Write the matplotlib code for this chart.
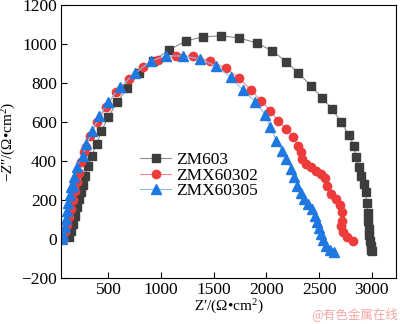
"""
EIS Nyquist plot: ZM603 / ZMX60302 / ZMX60305
"""
import numpy as np
import matplotlib.pyplot as plt

plt.rcParams['font.family'] = ['Liberation Serif', 'DejaVu Serif']
plt.rcParams['mathtext.fontset'] = 'custom'
plt.rcParams['mathtext.rm'] = 'Liberation Serif'
plt.rcParams['mathtext.it'] = 'Liberation Serif:italic'

# ZM603
zm603_re = [123, 142, 160, 179, 198, 217, 236, 255, 274, 311, 340, 387, 434, 500,
            585, 679, 792, 925, 1075, 1236, 1396, 1566, 1736, 1906, 2057, 2189,
            2302, 2425, 2528, 2623, 2708, 2783, 2830, 2849, 2877, 2896, 2924,
            2943, 2953, 2962, 2962, 2972, 2972, 2981, 2990, 2990, 3000]
zm603_im = [10, 41, 77, 118, 164, 205, 241, 277, 323, 374, 426, 487, 554, 626,
            703, 774, 851, 913, 969, 1015, 1036, 1041, 1031, 1005, 964, 908,
            851, 785, 723, 667, 600, 533, 477, 420, 369, 323, 282,
            241, 185, 133, 92, 51, 21, -10, -36, -56, -62]

# ZMX60302
zmx02_re = [66, 85, 104, 123, 142, 160, 179, 198, 217, 236, 264, 283, 321, 396,
            481, 575, 698, 830, 972, 1142, 1302, 1462, 1613, 1736, 1849, 1953,
            2038, 2113, 2189, 2255, 2302, 2330, 2340, 2377, 2425, 2472, 2519,
            2557, 2575, 2613, 2660, 2698, 2717, 2717, 2708, 2726, 2764, 2821]
zmx02_im = [0, 36, 72, 113, 154, 200, 246, 292, 338, 395, 446, 472, 528, 600,
            677, 754, 820, 882, 918, 938, 938, 913, 877, 826, 764, 708,
            656, 605, 564, 523, 477, 446, 410, 385, 369, 349, 333,
            313, 272, 231, 205, 174, 138, 92, 67, 36, 10, -10]

# ZMX60305
zmx05_re = [57, 66, 85, 94, 104, 113, 132, 142, 160, 170, 198, 255, 292, 349,
            415, 500, 613, 755, 906, 1047, 1208, 1368, 1519, 1660, 1774, 1896,
            1991, 2038, 2094, 2151, 2189, 2236, 2264, 2292, 2330, 2358, 2396,
            2434, 2462, 2481, 2500, 2519, 2538, 2566, 2604, 2641]
zmx05_im = [0, 21, 62, 103, 144, 185, 226, 267, 272, 318, 369, 426, 487, 554,
            631, 703, 779, 851, 913, 938, 938, 923, 887, 831, 764, 703,
            636, 574, 503, 451, 410, 359, 318, 272, 236, 205, 179,
            154, 118, 87, 56, 26, -5, -36, -56, -67]

xticks = [500, 1000, 1500, 2000, 2500, 3000]
yticks = [-200, 0, 200, 400, 600, 800, 1000, 1200]

fig = plt.figure(figsize=(4.0, 3.24), dpi=100)
ax = fig.add_axes([0.1525, 0.142, 0.8375, 0.843])

ax.plot(zm603_re, zm603_im, color='#8a8a8a', lw=0.8, marker='s', ms=5.2,
        mfc='#3d3d3d', mec='#3d3d3d', label='ZM603')
ax.plot(zmx02_re, zmx02_im, color='#f08a8a', lw=0.8, marker='o', ms=6,
        mfc='#ee3b3b', mec='#ee3b3b', label='ZMX60302')
ax.plot(zmx05_re, zmx05_im, color='#8cbdf0', lw=0.8, marker='^', ms=6.5,
        mfc='#1f77e0', mec='#1f77e0', label='ZMX60305')

ax.set_xlim(50, 3230)
ax.set_ylim(-200, 1200)
ax.set_xticks(xticks)
ax.set_yticks(yticks)
ax.tick_params(direction='in', labelsize=12.5, length=4, width=0.8, pad=3)
for s in ax.spines.values():
    s.set_linewidth(0.8)

ax.set_xlabel('Z′/(Ω•cm$^{2}$)', fontsize=11, labelpad=0)
ax.set_ylabel('−$Z$″/(Ω•cm$^{2}$)', fontsize=11, labelpad=2)

ax.legend(loc='upper left', bbox_to_anchor=(0.2, 0.505), frameon=False,
          fontsize=12.5, labelspacing=-0.05, handlelength=1.8,
          handletextpad=0.25, borderpad=0.2)

fig.text(0.995, 0.01, '@有色金属在线', color='#f4a6a6', fontsize=9,
         ha='right', va='bottom', family=['Noto Sans CJK SC', 'DejaVu Sans'])

fig.savefig('out.png', dpi=100)
